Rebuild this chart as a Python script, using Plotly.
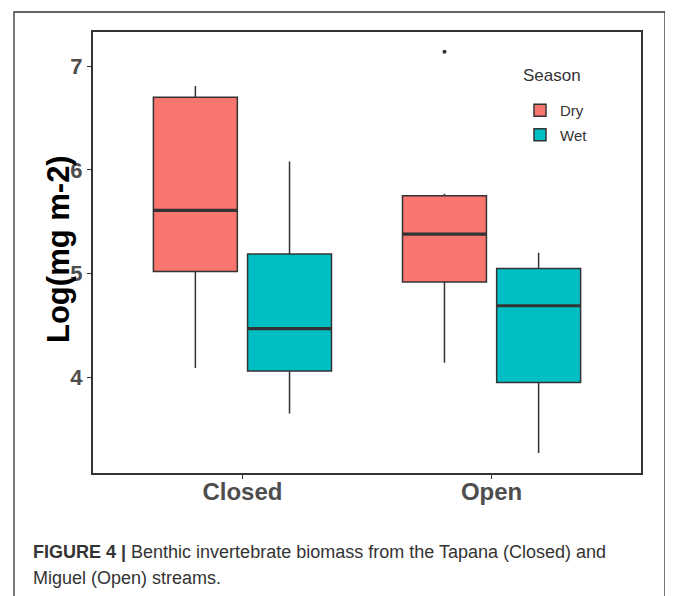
import plotly.graph_objects as go

# ---------------- data ----------------
categories = ["Closed", "Open"]
seasons = ["Dry", "Wet"]

dry_lower = [4.09, 4.14]
dry_q1 = [5.02, 4.92]
dry_median = [5.61, 5.38]
dry_q3 = [6.70, 5.75]
dry_upper = [6.81, 5.77]

wet_lower = [3.65, 3.27]
wet_q1 = [4.06, 3.95]
wet_median = [4.47, 4.69]
wet_q3 = [5.19, 5.05]
wet_upper = [6.08, 5.20]

outlier_category = ["Open"]
outlier_season = ["Dry"]
outlier_value = [7.14]

y_tick_values = [4, 5, 6, 7]

# ---------------- styling ----------------
# the page body adds an 8px offset; work in screen pixels and convert
OFF = 8
W, H = 673 - OFF, 596 - OFF
P_LEFT, P_RIGHT, P_TOP, P_BOTTOM = 93, 641, 32, 473  # panel in screen px
ML = P_LEFT - OFF
MT = P_TOP - OFF
MR = W - (P_RIGHT - OFF)
MB = H - (P_BOTTOM - OFF)
PW, PH = W - ML - MR, H - MT - MB

colors = {"Dry": "#F8766D", "Wet": "#00BFC4"}
offsets = {"Dry": -0.189, "Wet": 0.189}
box_w = 0.337
dark = "#333333"
FONT = "Liberation Sans, Arial, sans-serif"


def px_x(p):  # screen px -> paper
    return (p - OFF - ML) / PW


def px_y(p):
    return 1 - (p - OFF - MT) / PH


stats = {
    "Dry": (dry_lower, dry_q1, dry_median, dry_q3, dry_upper),
    "Wet": (wet_lower, wet_q1, wet_median, wet_q3, wet_upper),
}

fig = go.Figure()
for s in seasons:
    lo, q1, med, q3, up = stats[s]
    xs = [i + offsets[s] for i in range(len(categories))]
    fig.add_trace(go.Box(
        name=s, x=xs, q1=q1, median=med, q3=q3,
        lowerfence=lo, upperfence=up,
        width=box_w, whiskerwidth=0,
        fillcolor=colors[s],
        line=dict(color=dark, width=1.5),
        boxpoints=False, hoverinfo="skip",
        legendgroup=s,
    ))

# thicker median lines (ggplot style)
for s in seasons:
    med = stats[s][2]
    for i, m in enumerate(med):
        c = i + offsets[s]
        fig.add_trace(go.Scatter(
            x=[c - box_w / 2, c + box_w / 2], y=[m, m], mode="lines",
            line=dict(color=dark, width=3.2), showlegend=False,
            hoverinfo="skip",
        ))

# outlier
fig.add_trace(go.Scatter(
    x=[categories.index(c) + offsets[s] for c, s in zip(outlier_category, outlier_season)],
    y=outlier_value, mode="markers",
    marker=dict(color=dark, size=4), showlegend=False, hoverinfo="skip",
))

fig.update_layout(
    width=W, height=H,
    margin=dict(l=ML, r=MR, t=MT, b=MB),
    paper_bgcolor="white", plot_bgcolor="white",
    font=dict(family=FONT, color=dark),
    showlegend=True,
    legend=dict(
        font=dict(size=15, color=dark),
        x=px_x(520), y=px_y(94), xanchor="left", yanchor="top",
        bgcolor="rgba(0,0,0,0)", tracegroupgap=2,
    ),
    xaxis=dict(
        range=[-0.6, 1.6], tickmode="array",
        tickvals=list(range(len(categories))), ticktext=categories,
        tickfont=dict(size=24, color="#4D4D4D", family=FONT, weight="bold"),
        ticks="outside", ticklen=4, tickcolor=dark, ticklabelstandoff=-8,
        showline=True, mirror=True, linecolor=dark, linewidth=2,
        showgrid=False, zeroline=False,
    ),
    yaxis=dict(
        range=[3.077, 7.33], tickmode="array", tickvals=y_tick_values,
        tickfont=dict(size=22, color="#4D4D4D", family=FONT, weight="bold"),
        ticks="outside", ticklen=4, tickcolor=dark,
        showline=True, mirror=True, linecolor=dark, linewidth=2,
        showgrid=False, zeroline=False,
    ),
    annotations=[
        dict(text="<b>Log(mg m-2)</b>", textangle=-90, xref="paper", yref="paper",
             x=px_x(58), y=px_y(249), xanchor="center", yanchor="middle",
             showarrow=False, font=dict(size=31, color="black")),
        dict(text="Season", xref="paper", yref="paper",
             x=px_x(521), y=px_y(75), xanchor="left", yanchor="middle",
             showarrow=False, font=dict(size=17, color=dark)),
        dict(text="<b>FIGURE 4 |</b> Benthic invertebrate biomass from the Tapana (Closed) and",
             xref="paper", yref="paper", x=px_x(31), y=px_y(552),
             xanchor="left", yanchor="middle", showarrow=False,
             font=dict(size=18, color="#333333")),
        dict(text="Miguel (Open) streams.",
             xref="paper", yref="paper", x=px_x(31), y=px_y(578),
             xanchor="left", yanchor="middle", showarrow=False,
             font=dict(size=18, color="#333333")),
    ],
    shapes=[
        dict(type="rect", xref="paper", yref="paper",
             x0=px_x(14), x1=px_x(665), y0=px_y(620), y1=px_y(12),
             line=dict(color="#333333", width=1.3), fillcolor="rgba(0,0,0,0)",
             layer="below"),
    ],
)

fig.write_html("out.html")
